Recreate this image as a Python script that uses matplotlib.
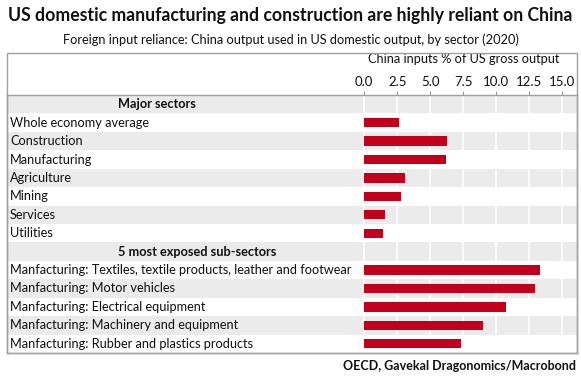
import matplotlib
matplotlib.use("Agg")
import matplotlib.pyplot as plt
from matplotlib.patches import Rectangle

plt.rcParams['font.family'] = ['Lato', 'DejaVu Sans']

# data (China inputs, % of US gross output, 2020)
major_header = "Major sectors"
major_labels = ["Whole economy average", "Construction", "Manufacturing", "Agriculture",
                "Mining", "Services", "Utilities"]
major_values = [2.6, 6.3, 6.2, 3.1, 2.8, 1.6, 1.4]

sub_header = "5 most exposed sub-sectors"
sub_labels = ["Manfacturing: Textiles, textile products, leather and footwear",
              "Manfacturing: Motor vehicles",
              "Manfacturing: Electrical equipment",
              "Manfacturing: Machinery and equipment",
              "Manfacturing: Rubber and plastics products"]
sub_values = [13.3, 12.9, 10.7, 9.0, 7.35]

xticks = [0.0, 2.5, 5.0, 7.5, 10.0, 12.5, 15.0]

W, H = 581, 377
fig = plt.figure(figsize=(W / 100, H / 100), dpi=100)

# table area in pixels
left_px, right_px, top_px, bot_px = 7, 577, 95, 353
ax = fig.add_axes([left_px / W, 1 - bot_px / H, (right_px - left_px) / W, (bot_px - top_px) / H])

# x scale: 0 at 364px, 15 at 562px
px_per_unit = (562.3 - 364.3) / 15
xmin = (left_px - 364.3) / px_per_unit
xmax = (right_px - 364.3) / px_per_unit

rows = [(major_header, None, True)]
rows += [(l, v, False) for l, v in zip(major_labels, major_values)]
rows += [(sub_header, None, True)]
rows += [(l, v, False) for l, v in zip(sub_labels, sub_values)]
n = len(rows)

ax.set_xlim(xmin, xmax)
ax.set_ylim(n - 0.5, -0.5)

gray = "#ebebeb"
red = "#c3001c"
header_x = xmin + (118 - left_px) / px_per_unit
label_x = xmin + (10 - left_px) / px_per_unit

for i, (label, val, is_header) in enumerate(rows):
    if i % 2 == 0:
        ax.axhspan(i - 0.5, i + 0.5, color=gray, lw=0, zorder=0)
    if is_header:
        ax.text(header_x, i, label, ha="left", va="center", fontsize=9.2,
                fontweight="bold", color="#111111")
    else:
        ax.text(label_x, i, label, ha="left", va="center", fontsize=9.2, color="#111111")
        ax.barh(i, val, height=0.5, color=red, zorder=3)

# white vertical grid lines in the value column
for t in xticks:
    ax.plot([t, t], [-0.5, n - 0.5], color="white", lw=1.2, zorder=1)

ax.xaxis.tick_top()
ax.xaxis.set_label_position("top")
ax.set_xticks(xticks)
ax.set_xticklabels([f"{t:.1f}" for t in xticks], fontsize=9.5, color="#111111")
ax.tick_params(axis="x", length=3, width=0.8, color="#999999", pad=2)
ax.set_yticks([])
ax.set_xlabel("China inputs % of US gross output", fontsize=9.2, color="#111111")
ax.xaxis.set_label_coords(((364.3 + 562.3) / 2 - left_px) / (right_px - left_px),
                          1 + (top_px - 63) / (bot_px - top_px))
for s in ax.spines.values():
    s.set_color("#a0a0a0")
    s.set_linewidth(1.0)

# outer frame around the header area
fig.patches.append(Rectangle((left_px / W, 1 - bot_px / H), (right_px - left_px) / W,
                             (bot_px - 53) / H, transform=fig.transFigure, fill=False,
                             edgecolor="#a0a0a0", lw=1.0))

fig.text(0.5, 1 - 15 / H, "US domestic manufacturing and construction are highly reliant on China",
         ha="center", va="center", fontsize=12.7, fontweight="bold", color="#111111")
fig.text(0.5, 1 - 40 / H, "Foreign input reliance: China output used in US domestic output, by sector (2020)",
         ha="center", va="center", fontsize=9.2, color="#111111")
fig.text(576 / W, 1 - 366 / H, "OECD, Gavekal Dragonomics/Macrobond",
         ha="right", va="center", fontsize=9.0, fontweight="bold", color="#111111")

fig.savefig("out.png", dpi=100)
